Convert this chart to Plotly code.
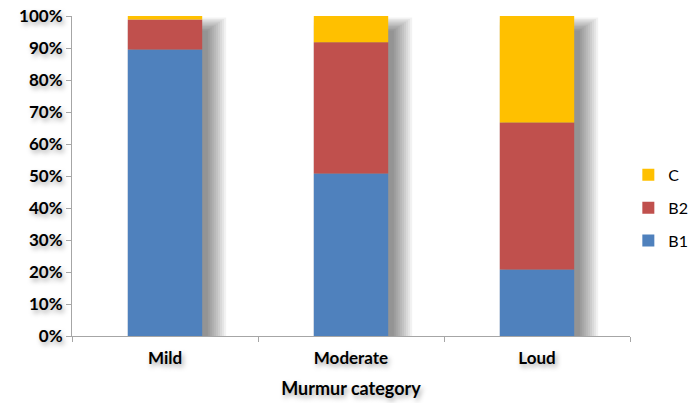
import plotly.graph_objects as go

# Share of each grade within each murmur category (percent)
categories = ["Mild", "Moderate", "Loud"]
b1 = [89.5, 50.8, 20.8]
b2 = [9.4, 41.0, 45.9]
c = [1.1, 8.2, 33.3]

colors = {"B1": "#4F81BD", "B2": "#C0504D", "C": "#FFC000"}
legend_rank = {"C": 1, "B2": 2, "B1": 3}

bar_width = 0.4
font_family = "Lato, 'Open Sans', sans-serif"
text_shadow = "2px 3px 5px rgba(0,0,0,0.35)"

fig = go.Figure()

# soft drop shadow behind each stacked column, built from the column totals
totals = [a + b + d for a, b, d in zip(b1, b2, c)]
n_layers = 10
dx, dy = 0.03, 4.5           # shadow shift (category units, percent)
gx, gy = 0.011, 0.45         # growth per layer
for i in range(n_layers):
    left_grow = min(gx * i, dx)
    fig.add_trace(go.Bar(
        x=categories,
        y=[t - dy + 2 * gy * i + 2.0 for t in totals],
        base=[-2.0 - gy * i for _ in totals],
        width=bar_width + gx * i + left_grow,
        offset=-bar_width / 2 + dx - left_grow,
        marker=dict(color="rgba(0,0,0,0.05)", line=dict(width=0)),
        cliponaxis=False,
        showlegend=False,
        hoverinfo="skip",
    ))

# stacked columns drawn with explicit bases
base_b2 = list(b1)
base_c = [a + b for a, b in zip(b1, b2)]
for name, vals, base in [("B1", b1, [0] * 3), ("B2", b2, base_b2), ("C", c, base_c)]:
    fig.add_trace(go.Bar(
        x=categories,
        y=vals,
        base=base,
        name=name,
        legendgroup=name,
        legendrank=legend_rank[name],
        width=bar_width,
        offset=-bar_width / 2,
        marker=dict(color=colors[name], line=dict(width=0)),
        cliponaxis=False,
    ))

fig.update_layout(
    barmode="overlay",
    width=692,
    height=403,
    margin=dict(l=72, r=62, t=16, b=67, autoexpand=False),
    paper_bgcolor="white",
    plot_bgcolor="white",
    font=dict(family=font_family, color="#000000"),
    legend=dict(
        xref="container", yref="container",
        x=0.908, y=0.484, xanchor="left", yanchor="middle",
        traceorder="grouped",
        font=dict(size=16, family=font_family, color="#000000"),
        itemsizing="constant",
        itemwidth=30,
        tracegroupgap=9,
        bgcolor="rgba(0,0,0,0)",
    ),
    xaxis=dict(
        automargin=False,
        showline=True, linecolor="#A6A6A6", linewidth=1,
        ticks="outside", tickson="boundaries", ticklen=5, tickcolor="#A6A6A6",
        ticklabelstandoff=7,
        tickfont=dict(size=17, family=font_family, color="#000000", weight="bold", shadow=text_shadow),
        title=dict(text="<b>Murmur category</b>", font=dict(size=18, family=font_family, shadow=text_shadow), standoff=14),
        showgrid=False,
    ),
    yaxis=dict(
        automargin=False,
        range=[0, 100],
        dtick=10,
        ticksuffix="%",
        showline=True, linecolor="#A6A6A6", linewidth=1,
        ticks="outside", ticklen=5, tickcolor="#A6A6A6",
        tickfont=dict(size=17, family=font_family, color="#000000", weight="bold", shadow=text_shadow),
        showgrid=False, zeroline=False,
    ),
)

fig.write_html("out.html")
